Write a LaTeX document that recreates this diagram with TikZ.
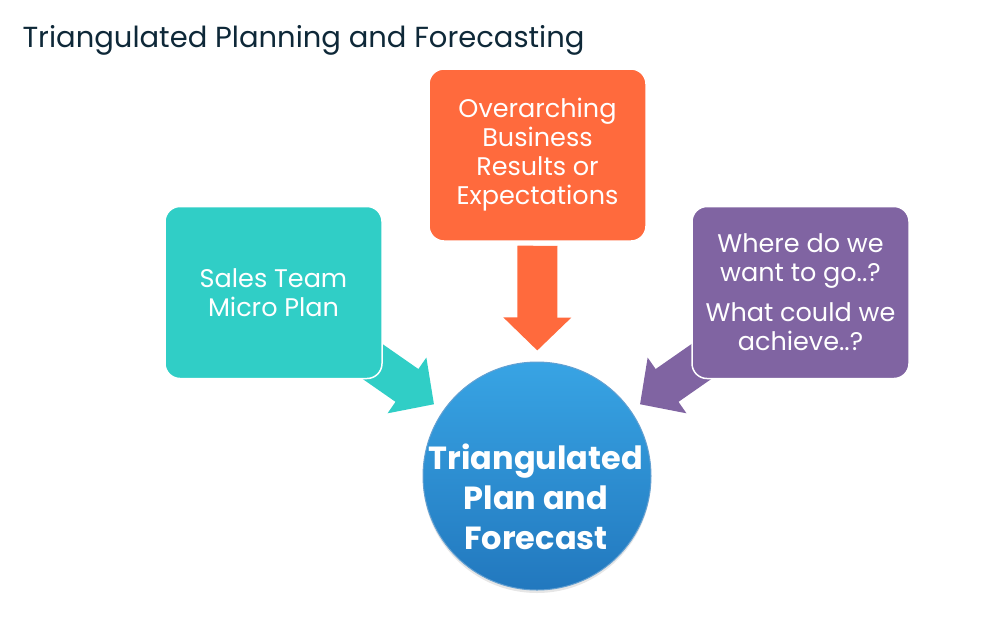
\documentclass[tikz,border=0pt]{standalone}
\usepackage{fontspec}
\setmainfont{Poppins}
\usetikzlibrary{arrows.meta,backgrounds,shadows}

\definecolor{titlenavy}{RGB}{14,40,56}
\definecolor{salesteal}{RGB}{48,206,198}
\definecolor{bizorange}{RGB}{255,106,61}
\definecolor{goalpurple}{RGB}{128,100,162}
\definecolor{planlight}{RGB}{56,164,228}
\definecolor{plandark}{RGB}{34,120,190}

\begin{document}
\begin{tikzpicture}[
  x=1pt, y=-1pt,
  box/.style={rectangle, rounded corners=15pt, draw=white, line width=1.5pt,
    text=white, align=center, inner sep=0pt,
    minimum width=217pt, minimum height=172pt,
    font=\fontsize{25.5}{29}\selectfont},
  flow/.style={line width=40pt, -{Triangle[length=33pt,width=66pt]}, shorten >=11pt},
  hub/.style={circle, minimum size=228pt, inner sep=0pt,
    top color=planlight, bottom color=plandark, draw=plandark!70!white, line width=1pt,
    drop shadow={shadow xshift=0pt, shadow yshift=-3pt, opacity=0.2}},
  hubtext/.style={text=white, align=center, font=\fontsize{32}{40}\selectfont\bfseries}
]
\useasboundingbox (0,0) rectangle (1008,633);

\node[anchor=base west, text=titlenavy, font=\fontsize{29}{33}\selectfont] (title) at (19,47)
  {Triangulated Planning and Forecasting};

\node[box, fill=bizorange] (over) at (537.5,155) {Overarching\\Business\\Results or\\Expectations};
\node[box, fill=salesteal] (sales) at (273.5,292.5) {Sales Team\\Micro Plan};
\node[box, fill=goalpurple] (goal) at (800.5,292.5)
  {Where do we\\want to go..?\\[11pt]What could we\\achieve..?};

\node[hub] (plan) at (537,476) {};
\node[hubtext] (plantext) at (536,497) {Triangulated\\Plan and\\Forecast};

% block arrows behind the boxes
\begin{scope}[on background layer]
  \draw[flow, bizorange, shorten <=4pt] (over.south) -- (plan);
  \draw[flow, salesteal] (sales.center) -- (plan);
  \draw[flow, goalpurple] (goal.center) -- (plan);
\end{scope}

\end{tikzpicture}
\end{document}
